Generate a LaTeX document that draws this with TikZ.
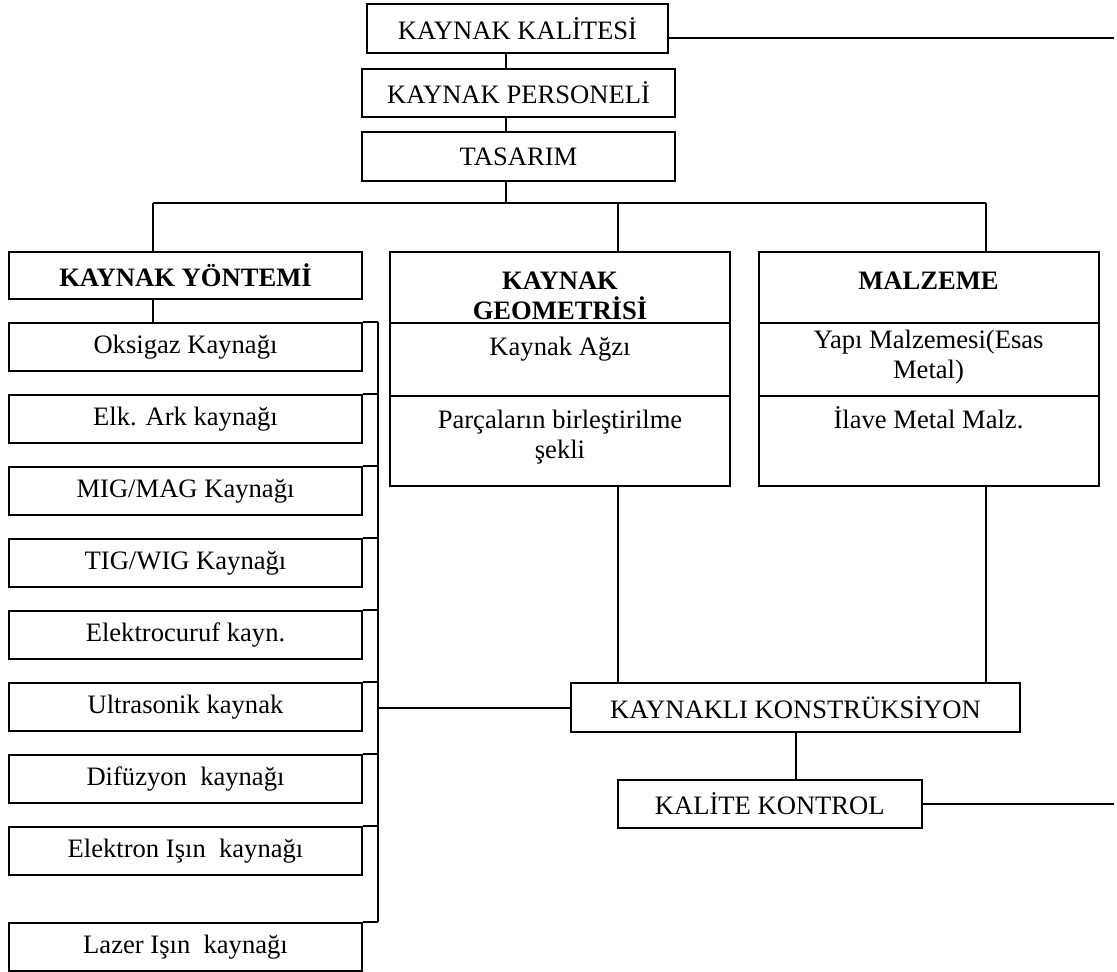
\documentclass[tikz,border=0pt]{standalone}
\usepackage{fontspec}
\setmainfont{Liberation Serif}

\begin{document}
\begin{tikzpicture}[
  line width=1pt,
  font=\fontsize{13.3}{15}\selectfont,
  box/.style 2 args={draw, shape=rectangle, minimum width=#1, minimum height=#2, inner sep=2pt},
  yontembox/.style={box={176.5pt}{24pt}},
  cell/.style={box={170pt}{#1}},
  celltext/.style={anchor=north, align=center, inner sep=#1},
  headtext/.style={celltext=10pt, font=\fontsize{13.3}{15}\selectfont\bfseries},
]
\useasboundingbox (0,0) rectangle (558.5pt,-486pt);

% top chain
\node [box={150.5pt}{24.5pt}] (kalite)   at (258.75pt, -14.25pt) {KAYNAK KALİTESİ};
\node [box={156.5pt}{24pt}]   (personel) at (259.25pt, -46.5pt)  {KAYNAK PERSONELİ};
\node [box={156.5pt}{24.5pt}] (tasarim)  at (259.25pt, -78.25pt) {TASARIM};

\coordinate (trunk)   at (253pt, -101.5pt);
\coordinate (dropL)   at (76.5pt, -101.5pt);
\coordinate (dropM)   at (309pt, -101.5pt);
\coordinate (dropR)   at (493pt, -101.5pt);
\coordinate (rail)    at (189pt, 0);
\coordinate (edgeTop) at (557pt, -19pt);
\coordinate (edgeBot) at (557pt, -401.5pt);

% three columns
\node [box={176.5pt}{23.5pt}, font=\fontsize{13.3}{15}\selectfont\bfseries] (yontem) at (92.75pt, -137.75pt) {KAYNAK YÖNTEMİ};

\node [cell=35.5pt, label={[headtext]north:{KAYNAK\\GEOMETRİSİ}}]                (geoBas)   at (280pt, -143.75pt) {};
\node [cell=36.5pt, label={[celltext=7pt]north:{Kaynak Ağzı}}]                   (geoAgiz)  at (280pt, -179.75pt) {};
\node [cell=45pt,   label={[celltext=7pt]north:{Parçaların birleştirilme\\şekli}}] (geoParca) at (280pt, -220.5pt) {};

\node [cell=35.5pt, label={[headtext]north:{MALZEME}}]                            (malzBas)   at (464.25pt, -143.75pt) {};
\node [cell=36.5pt, label={[celltext=3.5pt]north:{Yapı Malzemesi(Esas\\Metal)}}] (malzYapi)  at (464.25pt, -179.75pt) {};
\node [cell=45pt,   label={[celltext=5.5pt]north:{İlave Metal Malz.}}]           (malzIlave) at (464.25pt, -220.5pt) {};

% welding methods
\foreach \name/\txt [count=\i from 0] in {oksigaz/{Oksigaz Kaynağı}, elkark/{Elk. Ark kaynağı},
    migmag/{MIG/MAG Kaynağı}, tigwig/{TIG/WIG Kaynağı}, curuf/{Elektrocuruf kayn.},
    ultra/{Ultrasonik kaynak}, difuzyon/{Difüzyon~~kaynağı}, elektron/{Elektron Işın~~kaynağı}}
  \node [yontembox] (\name) at (92.75pt, {-173.5pt-36pt*\i}) {\txt};
\node [yontembox] (lazer) at (92.75pt, -473.5pt) {Lazer Işın~~kaynağı};

\node [box={224.5pt}{24.5pt}] (konstruksiyon) at (397.75pt, -353.75pt) {KAYNAKLI KONSTRÜKSİYON};
\node [box={152.25pt}{24pt}]  (kontrol)       at (384.9pt, -402pt)     {KALİTE KONTROL};

% connectors
\draw (kalite.south -| trunk) -- (personel.north -| trunk);
\draw (personel.south -| trunk) -- (tasarim.north -| trunk);
\draw (tasarim.south -| trunk) -- (trunk);
\draw (dropL) -- (dropR);
\draw (dropL) -- (dropL |- yontem.north);
\draw (dropM) -- (dropM |- geoBas.north);
\draw (dropR) -- (dropR |- malzBas.north);
\draw (kalite.east |- edgeTop) -- (edgeTop);

\draw (yontem.south -| dropL) -- (oksigaz.north -| dropL);
\foreach \name in {oksigaz, elkark, migmag, tigwig, curuf, ultra, difuzyon, elektron, lazer}
  \draw (\name.north east) -- (\name.north east -| rail);
\draw (oksigaz.north -| rail) -- (lazer.north -| rail);
\draw (konstruksiyon.west -| rail) -- (konstruksiyon.west);

\draw (geoParca.south -| dropM) -- (konstruksiyon.north -| dropM);
\draw (malzIlave.south -| dropR) -- (konstruksiyon.north -| dropR);
\draw (konstruksiyon.south) -- (konstruksiyon.south |- kontrol.north);
\draw (kontrol.east) -- (kontrol.east -| edgeBot);
\end{tikzpicture}
\end{document}
